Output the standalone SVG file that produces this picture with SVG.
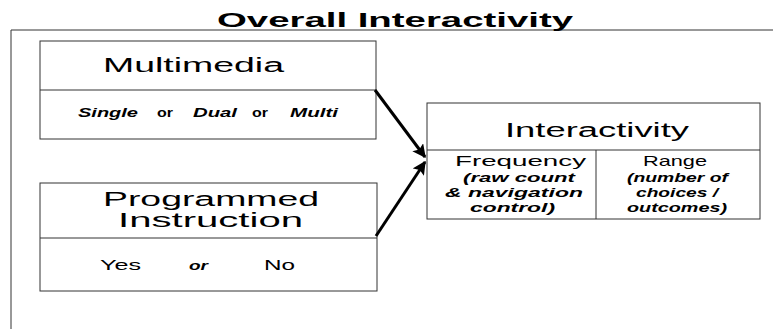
<svg xmlns="http://www.w3.org/2000/svg" width="773" height="329" viewBox="0 0 773 329">
<defs>
<style>
.box{fill:#fff;stroke:#333;stroke-width:1}
.ln{stroke:#333;stroke-width:1;fill:none}
.t{font-family:"Liberation Sans",Arial,sans-serif;fill:#000}
.h{font-size:20px}
.s{font-size:13px}
.bi{font-weight:bold;font-style:italic}
.b{font-weight:bold}
.conn{stroke:#000;stroke-width:3;fill:none}
</style>
<marker id="ah" viewBox="0 0 10 10" refX="9" refY="5" markerWidth="4.5" markerHeight="4.5" orient="auto" markerUnits="strokeWidth">
<path d="M0,0 L10,5 L0,10 L2,5 z" fill="#000"/>
</marker>
</defs>
<rect width="773" height="329" fill="#fff"/>
<g id="frame">
<path class="ln" d="M11,329 V30 H773"/>
<text class="t b" x="217" y="27" font-size="20" textLength="356" lengthAdjust="spacingAndGlyphs">Overall Interactivity</text>
</g>
<g id="multimedia">
<rect class="box" x="40" y="41" width="336" height="98"/>
<line class="ln" x1="40" y1="90" x2="376" y2="90"/>
<text class="t h" x="103" y="72" textLength="181" lengthAdjust="spacingAndGlyphs">Multimedia</text>
<text class="t s bi" x="78" y="117" textLength="60" lengthAdjust="spacingAndGlyphs">Single</text>
<text class="t s b" x="157" y="117" textLength="16" lengthAdjust="spacingAndGlyphs">or</text>
<text class="t s bi" x="193" y="117" textLength="44" lengthAdjust="spacingAndGlyphs">Dual</text>
<text class="t s b" x="252" y="117" textLength="16" lengthAdjust="spacingAndGlyphs">or</text>
<text class="t s bi" x="290" y="117" textLength="48" lengthAdjust="spacingAndGlyphs">Multi</text>
</g>
<g id="programmed">
<rect class="box" x="40" y="183" width="337" height="108"/>
<line class="ln" x1="40" y1="238" x2="377" y2="238"/>
<text class="t h" x="103" y="206" textLength="216" lengthAdjust="spacingAndGlyphs">Programmed</text>
<text class="t h" x="118" y="227" textLength="185" lengthAdjust="spacingAndGlyphs">Instruction</text>
<text class="t" x="100" y="270" font-size="15" textLength="41" lengthAdjust="spacingAndGlyphs">Yes</text>
<text class="t bi" x="189" y="270" font-size="12" textLength="19" lengthAdjust="spacingAndGlyphs">or</text>
<text class="t" x="264" y="270" font-size="15" textLength="31" lengthAdjust="spacingAndGlyphs">No</text>
</g>
<g id="interactivity">
<rect class="box" x="427" y="103" width="333" height="116"/>
<line class="ln" x1="427" y1="150" x2="760" y2="150"/>
<line class="ln" x1="596" y1="150" x2="596" y2="219"/>
<text class="t h" x="505" y="137" textLength="184" lengthAdjust="spacingAndGlyphs">Interactivity</text>
<text class="t" x="455" y="166" font-size="15" textLength="131" lengthAdjust="spacingAndGlyphs">Frequency</text>
<text class="t s bi" x="463" y="182" textLength="112" lengthAdjust="spacingAndGlyphs">(raw count</text>
<text class="t s bi" x="445" y="197" textLength="138" lengthAdjust="spacingAndGlyphs">&amp; navigation</text>
<text class="t s bi" x="470" y="212" textLength="85" lengthAdjust="spacingAndGlyphs">control)</text>
<text class="t" x="643" y="166" font-size="15" textLength="64" lengthAdjust="spacingAndGlyphs">Range</text>
<text class="t s bi" x="627" y="182" textLength="101" lengthAdjust="spacingAndGlyphs">(number of</text>
<text class="t s bi" x="636" y="197" textLength="82" lengthAdjust="spacingAndGlyphs">choices /</text>
<text class="t s bi" x="627" y="212" textLength="100" lengthAdjust="spacingAndGlyphs">outcomes)</text>
</g>
<g id="connectors">
<line class="conn" x1="375" y1="90" x2="425" y2="157" marker-end="url(#ah)"/>
<line class="conn" x1="376" y1="236" x2="425" y2="162" marker-end="url(#ah)"/>
</g>
</svg>
